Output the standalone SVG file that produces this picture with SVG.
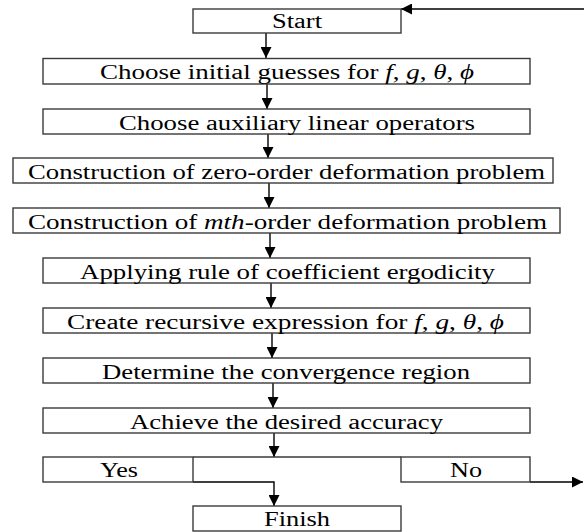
<svg xmlns="http://www.w3.org/2000/svg" width="584" height="532" viewBox="0 0 584 532">
<style>
.box{fill:#fff;stroke:#3a3a3a;stroke-width:1.4}
.ln{fill:none;stroke:#000;stroke-width:1.4}
text{font-family:"Liberation Serif","Times New Roman",serif;font-size:20px;fill:#000}
.m{font-style:italic}
</style>
<defs>
<marker id="ah" viewBox="0 0 10 10" refX="10" refY="5" markerWidth="11" markerHeight="11" markerUnits="userSpaceOnUse" orient="auto">
<path d="M0,0 L10,5 L0,10 z" fill="#000"/>
</marker>
</defs>
<rect width="584" height="532" fill="#fff"/>
<g id="connectors">
<path class="ln" d="M584,9 H401" marker-end="url(#ah)"/>
<path class="ln" d="M266,33 V58" marker-end="url(#ah)"/>
<path class="ln" d="M267,84 V109" marker-end="url(#ah)"/>
<path class="ln" d="M268,134 V158" marker-end="url(#ah)"/>
<path class="ln" d="M269,183 V208" marker-end="url(#ah)"/>
<path class="ln" d="M270,233 V258" marker-end="url(#ah)"/>
<path class="ln" d="M271,283 V308" marker-end="url(#ah)"/>
<path class="ln" d="M272,333 V358" marker-end="url(#ah)"/>
<path class="ln" d="M273,383 V408" marker-end="url(#ah)"/>
<path class="ln" d="M274,433 V457" marker-end="url(#ah)"/>
<path class="ln" d="M193,482 H274 V506" marker-end="url(#ah)"/>
<path class="ln" d="M530,482 H583" marker-end="url(#ah)"/>
</g>
<g id="start"><rect class="box" x="193" y="9" width="208" height="24"/><text x="272" y="27.5" textLength="50" lengthAdjust="spacingAndGlyphs">Start</text></g>
<g id="initial"><rect class="box" x="43" y="58.5" width="487" height="25.5"/><text x="100" y="79" textLength="374" lengthAdjust="spacingAndGlyphs">Choose initial guesses for <tspan class="m">f</tspan>, <tspan class="m">g</tspan>, <tspan class="m">θ</tspan>, <tspan class="m">ϕ</tspan></text></g>
<g id="operators"><rect class="box" x="43" y="109" width="487" height="25"/><text x="119" y="129.5" textLength="356" lengthAdjust="spacingAndGlyphs">Choose auxiliary linear operators</text></g>
<g id="zero"><rect class="box" x="13" y="158" width="540" height="25"/><text x="28" y="178.5" textLength="517" lengthAdjust="spacingAndGlyphs">Construction of zero-order deformation problem</text></g>
<g id="mth"><rect class="box" x="13" y="208" width="547" height="25"/><text x="28" y="228.5" textLength="519" lengthAdjust="spacingAndGlyphs">Construction of <tspan class="m">mth</tspan>-order deformation problem</text></g>
<g id="applying"><rect class="box" x="43" y="258" width="487" height="25"/><text x="80" y="278.5" textLength="415" lengthAdjust="spacingAndGlyphs">Applying rule of coefficient ergodicity</text></g>
<g id="recursive"><rect class="box" x="43" y="308" width="487" height="25"/><text x="67" y="328.5" textLength="437" lengthAdjust="spacingAndGlyphs">Create recursive expression for <tspan class="m">f</tspan>, <tspan class="m">g</tspan>, <tspan class="m">θ</tspan>, <tspan class="m">ϕ</tspan></text></g>
<g id="convergence"><rect class="box" x="43" y="358" width="487" height="25"/><text x="102" y="378.5" textLength="368" lengthAdjust="spacingAndGlyphs">Determine the convergence region</text></g>
<g id="accuracy"><rect class="box" x="43" y="408" width="487" height="25"/><text x="130" y="428.5" textLength="313" lengthAdjust="spacingAndGlyphs">Achieve the desired accuracy</text></g>
<g id="decision"><path class="box" d="M193,457 H401" fill="none"/></g>
<g id="yes"><rect class="box" x="43" y="457" width="150" height="25"/><text x="100" y="477" textLength="38" lengthAdjust="spacingAndGlyphs">Yes</text></g>
<g id="no"><rect class="box" x="401" y="457" width="129" height="25"/><text x="450" y="477" textLength="32" lengthAdjust="spacingAndGlyphs">No</text></g>
<g id="finish"><rect class="box" x="193" y="506" width="208" height="25"/><text x="264" y="526" textLength="66" lengthAdjust="spacingAndGlyphs">Finish</text></g>
</svg>
